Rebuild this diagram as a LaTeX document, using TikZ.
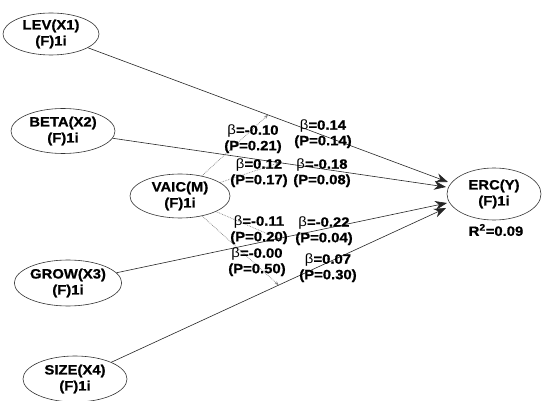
\documentclass[tikz,border=0pt]{standalone}
\usepackage{fontspec}
\setmainfont{Liberation Sans}[FakeStretch=1.1,BoldFeatures={FakeBold=0.8}]
\usetikzlibrary{shapes.geometric,arrows.meta}
\begin{document}
\begin{tikzpicture}[x=1pt,y=-1pt,
  lv/.style={ellipse,draw=black!80,line width=0.6pt,inner sep=0pt,align=center,
    font=\bfseries\fontsize{13.5}{16}\selectfont},
  lab/.style={align=center,inner sep=0pt,
    font=\bfseries\fontsize{13.5}{15.5}\selectfont},
  arr/.style={draw=black!85,line width=0.6pt,-{Stealth[length=12pt,width=9pt]}},
  modline/.style={draw=gray,densely dotted,line width=0.7pt,-{Stealth[length=4pt,width=3pt]}}]
\useasboundingbox (0,0) rectangle (542,401);
\fill[white] (0,0) rectangle (542,401);
% latent variables
\node[lv,minimum width=96,minimum height=42] (lev)  at (51,34)  {LEV(X1)\\(F)1i};
\node[lv,minimum width=104,minimum height=45] (beta) at (63,131) {BETA(X2)\\(F)1i};
\node[lv,minimum width=100,minimum height=44] (vaic) at (180,196) {VAIC(M)\\(F)1i};
\node[lv,minimum width=104,minimum height=46] (grow) at (68,283) {GROW(X3)\\(F)1i};
\node[lv,minimum width=104,minimum height=46] (size) at (75,379) {SIZE(X4)\\(F)1i};
\node[lv,minimum width=94,minimum height=52] (erc)  at (494,194) {ERC(Y)\\(F)1i};
\node[lab] (r2) at (496,230) {R\textsuperscript{2}=0.09};
% arrow tips at ERC
\coordinate (t1) at (448,182);
\coordinate (t2) at (446,187);
\coordinate (t3) at (447,203);
\coordinate (t4) at (446,208);
% structural paths
\draw[arr] (lev)  -- coordinate[pos=0.5] (m1) (t1);
\draw[arr] (beta) -- coordinate[pos=0.5] (m2) (t2);
\draw[arr] (grow) -- coordinate[pos=0.49] (m3) (t3);
\draw[arr] (size) -- coordinate[pos=0.5] (m4) (t4);
% moderating (dotted) paths
\draw[modline] (vaic) -- (m1);
\draw[modline] (vaic) -- (m2);
\draw[modline] (vaic) -- (m3);
\draw[modline] (vaic) -- (m4);
% labels
\node[lab] (b1) at (323,134) {{\mdseries β}=0.14\\(P=0.14)};
\node[lab] (b2) at (322,173) {{\mdseries β}=-0.18\\(P=0.08)};
\node[lab] (b3) at (324,231) {{\mdseries β}=-0.22\\(P=0.04)};
\node[lab] (b4) at (328,268) {{\mdseries β}=0.07\\(P=0.30)};
\node[lab] (i1) at (253,139) {{\mdseries β}=-0.10\\(P=0.21)};
\node[lab] (i2) at (259,173) {{\mdseries β}=0.12\\(P=0.17)};
\node[lab] (i3) at (259,230) {{\mdseries β}=-0.11\\(P=0.20)};
\node[lab] (i4) at (257,262) {{\mdseries β}=-0.00\\(P=0.50)};
\end{tikzpicture}
\end{document}
